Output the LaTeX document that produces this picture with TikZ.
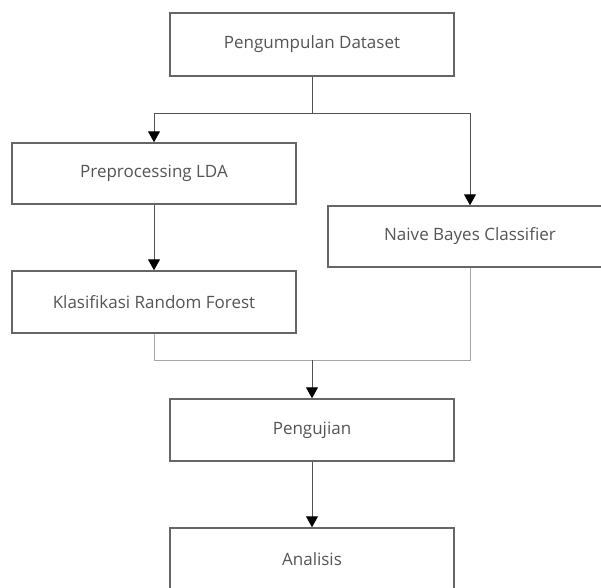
\documentclass[tikz,border=0pt]{standalone}
\usepackage{fontspec}
\setmainfont{Open Sans}
\usepackage{tikz}
\usetikzlibrary{calc,positioning,arrows.meta}

\definecolor{boxline}{HTML}{666666}
\definecolor{boxtext}{HTML}{555555}
\definecolor{joinline}{HTML}{A6A6A6}

\begin{document}
\begin{tikzpicture}[x=1pt,y=-1pt,>={Triangle[width=12pt,length=11pt,color=black]},
    stepbox/.style={rectangle,draw=boxline,line width=1.5pt,fill=white,
        minimum width=284pt,minimum height=63pt,text=boxtext,
        font=\fontsize{17}{20}\selectfont},
    link/.style={draw=boxline!80!black,line width=1pt},
    mergeline/.style={draw=joinline,line width=1pt}]
        \useasboundingbox (0,0) rectangle (601,587);
        \clip (0,0) rectangle (601,587);
        \node [stepbox] (data) at (312,44.5) {Pengumpulan Dataset};
        \node [stepbox,minimum height=61pt] (prep) at (154,173.5) {Preprocessing LDA};
        \node [stepbox,minimum height=61pt] (nb) at (470,236.5) {Naive Bayes Classifier};
        \node [stepbox,minimum height=62pt] (klas) at (154,302) {Klasifikasi Random Forest};
        \node [stepbox,minimum height=62pt] (peng) at (312,430) {Pengujian};
        \node [stepbox] (anal) at (312,559.5) {Analisis};
        \coordinate (split) at (312,113);
        \coordinate (merge) at (312,360);
        \draw [link] (data.south) -- (split);
        \draw [link,->] (split) -| (prep.north);
        \draw [link,->] (split) -| (nb.north);
        \draw [link,->] (prep) -- (klas);
        \draw [mergeline] (klas.south) |- (merge) -| (nb.south);
        \draw [link,->] (merge) -- (peng);
        \draw [link,->] (peng) -- (anal);
\end{tikzpicture}
\end{document}
